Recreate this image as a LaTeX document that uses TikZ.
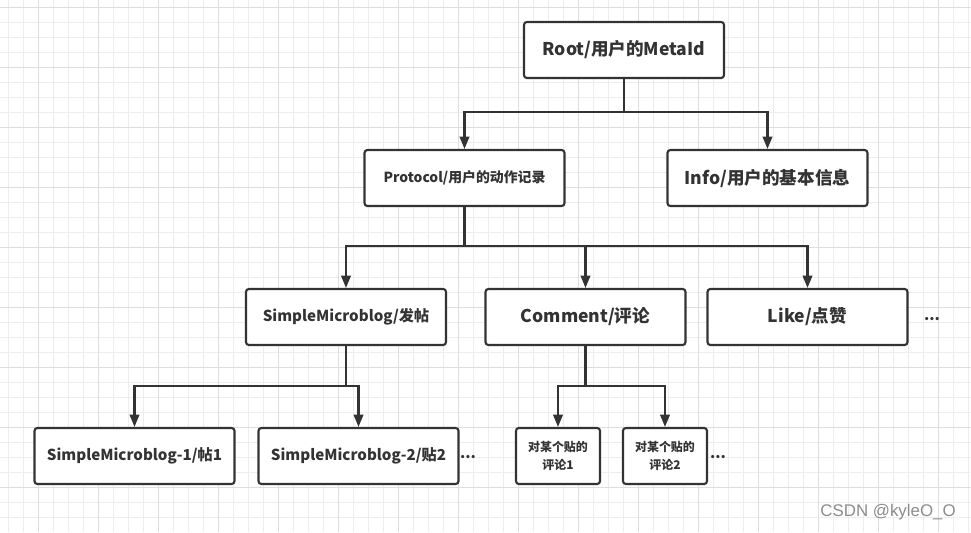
\documentclass[tikz,border=0pt]{standalone}
\usepackage{fontspec}
\newfontfamily\cjk{Noto Sans CJK SC}
\newfontfamily\markfont{Liberation Sans}
\usetikzlibrary{arrows.meta}
\definecolor{ink}{HTML}{333333}
\definecolor{gridminor}{HTML}{EDEDED}
\definecolor{gridmajor}{HTML}{DEDEDE}
\tikzset{>={Triangle[length=7pt,width=5.4pt]}}
\tikzset{
    box/.style={rectangle,draw=ink,line width=1.2pt,rounded corners=1.6pt,fill=white,
        minimum width=4cm,minimum height=1.12cm,inner sep=0pt,text=ink,align=center},
    smallbox/.style={box,minimum width=1.68cm},
    big/.style={font=\cjk\bfseries\fontsize{10}{12}\selectfont},
    mid/.style={font=\cjk\bfseries\fontsize{8.6}{10}\selectfont},
    small/.style={font=\cjk\bfseries\fontsize{7.9}{9}\selectfont},
    tiny/.style={font=\cjk\bfseries\fontsize{6.8}{10.5}\selectfont},
    more/.style={text=ink,inner sep=0pt,font=\cjk\bfseries\fontsize{8.6}{10}\selectfont},
    link/.style={draw=ink,line width=1.2pt},
    arrow/.style={link,->},
}

\begin{document}
\begin{tikzpicture}[x=0.02cm,y=-0.02cm]
    \useasboundingbox (0,0) rectangle (971,532);
    % background grid
    \foreach \x in {8.3,23.3,...,968.3}
        \draw[gridminor,line width=0.55pt] (\x,0) -- (\x,532);
    \foreach \y in {7.3,22.3,...,530}
        \draw[gridminor,line width=0.55pt] (0,\y) -- (971,\y);
    \foreach \x in {38.3,98.3,...,968.3}
        \draw[gridmajor,line width=0.55pt] (\x,0) -- (\x,532);
    \foreach \y in {7.3,67.3,...,530}
        \draw[gridmajor,line width=0.55pt] (0,\y) -- (971,\y);

    \node[box,big] (root) at (624,50) {Root/用户的MetaId};
    \node[box,small] (protocol) at (464.5,178) {Protocol/用户的动作记录};
    \node[box,big] (info) at (767.5,178) {Info/用户的基本信息};

    \node[box,mid] (blog) at (346,317) {SimpleMicroblog/发帖};
    \node[box,big] (comment) at (585.5,317) {Comment/评论};
    \node[box,big] (like) at (807.5,317) {Like/点赞};
    \node[more] (more1) at (932,319) {...};

    \node[box,mid] (blog1) at (134.5,456) {SimpleMicroblog-1/帖1};
    \node[box,mid] (blog2) at (358.5,456) {SimpleMicroblog-2/贴2};
    \node[more] (more2) at (468,457) {...};
    \node[smallbox,tiny] (cmt1) at (558,456) {对某个贴的\\评论1};
    \node[smallbox,tiny] (cmt2) at (665,456) {对某个贴的\\评论2};
    \node[more] (more3) at (718,457) {...};

    % branch points
    \coordinate (j1) at (624,112);
    \coordinate (j2) at (464.5,246);
    \coordinate (j3) at (346,386);
    \coordinate (j4) at (585.5,386);

    \draw[link] (root) -- (j1);
    \draw[arrow] (j1) -| (protocol);
    \draw[arrow] (j1) -| (info);

    \draw[link] (protocol) -- (j2);
    \draw[arrow] (j2) -| (blog);
    \draw[arrow] (j2) -| (comment);
    \draw[arrow] (j2) -| (like);

    \draw[link] (blog) -- (j3);
    \draw[arrow] (j3) -| (blog1);
    \draw[arrow] (j3) -| (blog2);

    \draw[link] (comment) -- (j4);
    \draw[arrow] (j4) -| (cmt1);
    \draw[arrow] (j4) -| (cmt2);

    \node[text=black!45,inner sep=0pt,font=\markfont\fontsize{9.6}{11}\selectfont,anchor=east] (mark) at (956,512) {CSDN @kyleO\_O};
\end{tikzpicture}
\end{document}
